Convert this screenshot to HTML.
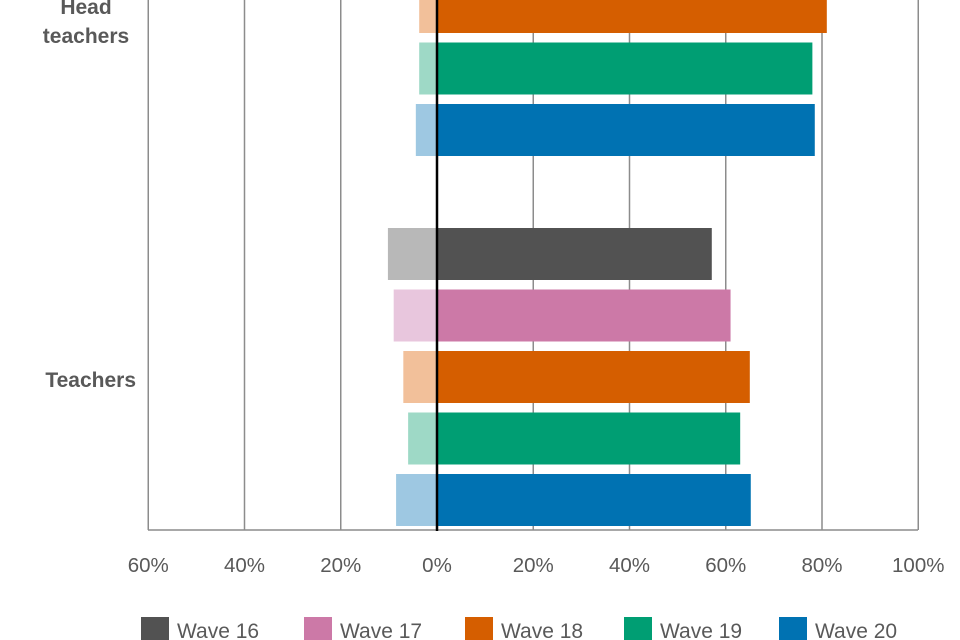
<!DOCTYPE html>
<html><head><meta charset="utf-8"><style>
html,body{margin:0;padding:0;background:#fff;width:960px;height:640px;overflow:hidden}
svg{display:block;font-family:"Liberation Sans",sans-serif}
</style></head><body>
<svg id="chart" width="960" height="640"></svg>
<script>
const categories = ["Head teachers","Teachers"];
const waves = ["Wave 16","Wave 17","Wave 18","Wave 19","Wave 20"];
const negHead = [4, 4, 3.7, 3.7, 4.4];
const posHead = [80, 80, 81, 78, 78.5];
const negTeach = [10.2, 9, 7, 6, 8.5];
const posTeach = [57.1, 61, 65, 63, 65.2];
const ticks = [-60,-40,-20,0,20,40,60,80,100];
const tickLabels = ["60%","40%","20%","0%","20%","40%","60%","80%","100%"];
const darkColors = ["#525252","#cc79a7","#d55e00","#009e73","#0072b2"];
const lightColors = ["#b8b8b8","#e8c6dd","#f2c09a","#9ed9c6","#9ec8e2"];

const svg = document.getElementById('chart');
const NS = "http://www.w3.org/2000/svg";
const x = v => 437 + v * 4.8125;
const groupStart = [-142, 228];
const barStep = 61.5, barH = 52;
const y = (g, i) => groupStart[g] + i * barStep;
function mk(tag, attrs){const e=document.createElementNS(NS,tag);for(const k in attrs)e.setAttribute(k,attrs[k]);svg.appendChild(e);return e;}

ticks.forEach((t,i)=>{
  if(t!==0){
    const l=mk('line',{x1:x(t),x2:x(t),y1:0,y2:530,stroke:'#8c8c8c','stroke-width':1.5});
    
    
  }
  const tx=mk('text',{x:x(t),y:572,'text-anchor':'middle','font-size':20.5,fill:'#595959'});
  tx.textContent=tickLabels[i];
  
  
});
const ax=mk('line',{x1:148,x2:918,y1:530,y2:530,stroke:'#8c8c8c','stroke-width':1.5});



const negs=[negHead,negTeach], poss=[posHead,posTeach];
for(let g=0;g<2;g++){
  for(let i=0;i<5;i++){
    const yy=y(g,i);
    const n=mk('rect',{x:x(-negs[g][i]),y:yy,width:x(0)-x(-negs[g][i]),height:barH,fill:lightColors[i]});
    
    
    const p=mk('rect',{x:x(0),y:yy,width:x(poss[g][i])-x(0),height:barH,fill:darkColors[i]});
    
    
  }
}
const z=mk('line',{x1:x(0),x2:x(0),y1:0,y2:531,stroke:'#000','stroke-width':2.5});



const h1=mk('text',{x:86,y:14,'text-anchor':'middle','font-size':21,'font-weight':'bold',fill:'#595959'});
h1.textContent='Head';


const h2=mk('text',{x:86,y:43,'text-anchor':'middle','font-size':21,'font-weight':'bold',fill:'#595959'});
h2.textContent='teachers';


const t1=mk('text',{x:136,y:387,'text-anchor':'end','font-size':21,'font-weight':'bold',fill:'#595959'});
t1.textContent=categories[1];



const legX=[141,304,465,624,779];
waves.forEach((w,i)=>{
  const r=mk('rect',{x:legX[i],y:617,width:28,height:28,fill:darkColors[i]});
  
  
  const t=mk('text',{x:legX[i]+36,y:638,'font-size':21,fill:'#595959'});
  t.textContent=w;
  
  
});
</script>
</body></html>
